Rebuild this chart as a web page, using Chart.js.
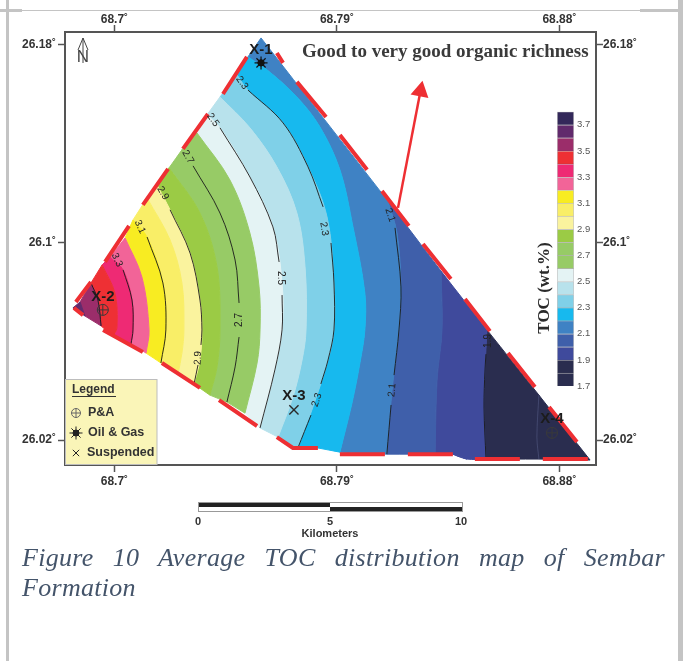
<!DOCTYPE html>
<html>
<head>
<meta charset="utf-8">
<title>Average TOC distribution map</title>
<script src="https://cdn.jsdelivr.net/npm/chart.js@4"></script>
<style>
  html, body { margin: 0; padding: 0; background: #fff; }
  #page { position: relative; width: 683px; height: 661px; overflow: hidden; }
  #page canvas { position: absolute; }
  .rule { position: absolute; background: #c4c4c4; }
  #caption {
    position: absolute; left: 22px; top: 543px; width: 643px;
    font: italic 26px/30px "Liberation Serif", serif; letter-spacing: 0.3px;
    color: #44546a; text-align: justify;
  }
</style>
</head>
<body>
<div id="page">
  <canvas id="map" width="683" height="661" style="left:0;top:0"></canvas>
  <canvas id="scale" width="50" height="294" style="left:557px;top:103px"></canvas>
  <div class="rule" style="left:6px;top:0;width:3px;height:661px"></div>
  <div class="rule" style="left:0;top:9px;width:22px;height:3px"></div>
  <div class="rule" style="left:22px;top:10px;width:618px;height:1px"></div>
  <div class="rule" style="left:640px;top:9px;width:38px;height:3px"></div>
  <div class="rule" style="left:678px;top:0;width:5px;height:661px"></div>
  <div id="caption">Figure 10 Average TOC distribution map of Sembar Formation</div>
</div>
<script>
// axis ticks
var lonTicks = [68.7, 68.79, 68.88];
var latTicks = [26.02, 26.1, 26.18];
var tocTicks = [1.7, 1.9, 2.1, 2.3, 2.5, 2.7, 2.9, 3.1, 3.3, 3.5, 3.7];

// colour classes, 1.7-1.8 up to 3.7-3.8
var tocColors = ['#2a2d4f', '#2a2d4f', '#3f4a9c', '#3f5faa', '#3f82c4', '#17b9ee', '#7fd0e8',
   '#b8e2ec', '#e4f3f4', '#97cb66', '#97cb66', '#9bcb45', '#faf39e', '#f9ee67', '#f8ec22',
   '#f26498', '#ee2a74', '#ee3034', '#9b2d6a', '#612a6c', '#33285a'];
var tocLow = [1.7, 1.8, 1.9, 2.0, 2.1, 2.2, 2.3, 2.4, 2.5, 2.6, 2.7, 2.8, 2.9, 3.0, 3.1, 3.2, 3.3, 3.4, 3.5, 3.6, 3.7];
var tocHigh = [1.8, 1.9, 2.0, 2.1, 2.2, 2.3, 2.4, 2.5, 2.6, 2.7, 2.8, 2.9, 3.0, 3.1, 3.2, 3.3, 3.4, 3.5, 3.6, 3.7, 3.8];

// contours, [lon, lat], from the north edge of the block to the south edge
var c18 = [[68.8717, 26.0382], [68.8709, 26.0212], [68.8717, 26.0123]];
var c19 = [[68.8507, 26.0646], [68.8499, 26.0484], [68.8495, 26.0334], [68.8503, 26.0123]];
var c20 = [[68.8321, 26.0884], [68.8325, 26.0646], [68.8305, 26.0443], [68.8297, 26.0143]];
var c21 = [[68.8106, 26.1168], [68.8143, 26.1038], [68.8159, 26.082], [68.8151, 26.0646], [68.8123, 26.0402], [68.8102, 26.0143]];
var c22 = [[68.754, 26.1751], [68.7617, 26.1699], [68.7738, 26.1589], [68.7831, 26.1468], [68.7912, 26.1294], [68.7965, 26.1063], [68.8013, 26.0795], [68.8013, 26.0646], [68.7993, 26.0512], [68.7961, 26.035], [68.7912, 26.0151]];
var c23 = [[68.7496, 26.1678], [68.754, 26.1617], [68.7682, 26.1484], [68.7783, 26.1306], [68.786, 26.1103], [68.7888, 26.0836], [68.7888, 26.0646], [68.7864, 26.0524], [68.7803, 26.0334], [68.7742, 26.0168]];
var c24 = [[68.7427, 26.1589], [68.7548, 26.1464], [68.7657, 26.1306], [68.7738, 26.1119], [68.7771, 26.0901], [68.7775, 26.0646], [68.7759, 26.0524], [68.7722, 26.0374], [68.7662, 26.0212]];
var c25 = [[68.7374, 26.1516], [68.7427, 26.1464], [68.7548, 26.1265], [68.7641, 26.1063], [68.7678, 26.0836], [68.7678, 26.0646], [68.7649, 26.0484], [68.7589, 26.0249]];
var c26 = [[68.7334, 26.1443], [68.7467, 26.1253], [68.7548, 26.1038], [68.7585, 26.082], [68.7589, 26.0646], [68.7577, 26.0512], [68.7528, 26.0309]];
var c27 = [[68.7273, 26.1375], [68.7318, 26.131], [68.7427, 26.1119], [68.7488, 26.0929], [68.7504, 26.0755], [68.7504, 26.0646], [68.7488, 26.0496], [68.7455, 26.0354]];
var c28 = [[68.7221, 26.1302], [68.7346, 26.1119], [68.7415, 26.0901], [68.7427, 26.0646], [68.7415, 26.0496], [68.7386, 26.0382]];
var c29 = [[68.7172, 26.1233], [68.7225, 26.1132], [68.7306, 26.0957], [68.7346, 26.0767], [68.7354, 26.0646], [68.7346, 26.0524], [68.7322, 26.0427]];
var c30 = [[68.7132, 26.118], [68.7225, 26.101], [68.7273, 26.0836], [68.7281, 26.0646], [68.7273, 26.0552], [68.7257, 26.0467]];
var c31 = [[68.7075, 26.1091], [68.7132, 26.1022], [68.7196, 26.0836], [68.7208, 26.0646], [68.7188, 26.0512]];
var c32 = [[68.7043, 26.1018], [68.7111, 26.086], [68.714, 26.0646], [68.7128, 26.0552]];
var c33 = [[68.6982, 26.0941], [68.7035, 26.0889], [68.7071, 26.0767], [68.7075, 26.0646], [68.7067, 26.0589]];
var c34 = [[68.695, 26.0909], [68.7002, 26.0795], [68.701, 26.0654], [68.6994, 26.0621]];
var c35 = [[68.6905, 26.0836], [68.6933, 26.0767], [68.6946, 26.0662]];
var c36 = [[68.6861, 26.0759], [68.6881, 26.0702]];
var contours = [c18, c19, c20, c21, c22, c23, c24, c25, c26, c27, c28, c29, c30, c31, c32, c33, c34, c35, c36];

// corners of the block that fall inside a class
var cornerEast = [[68.8924, 26.0119]];
var cornerWest = [[68.6832, 26.0735]];
var bandTop = { 4: [[68.7593, 26.1828]] };
var bandBottom = {
   2: [[68.8369, 26.0143], [68.8426, 26.0123]],
   5: [[68.7823, 26.0168]],
   6: [[68.7722, 26.0168]],
};

// drawn contour lines, broken where the labels sit
var lineContours = [
   [[68.8717, 26.0382], [68.8709, 26.0212], [68.8717, 26.0123]],
   [[68.8503, 26.0548], [68.8499, 26.0484], [68.8495, 26.0334], [68.8503, 26.0123]],
   [[68.8135, 26.1059], [68.8159, 26.082], [68.8151, 26.0646], [68.8131, 26.0463], [null, null], [68.8119, 26.0342], [68.8102, 26.0143]],
   [[68.754, 26.1617], [68.7682, 26.1484], [68.7783, 26.1306], [68.7844, 26.1144], [null, null], [68.7876, 26.0998], [68.7888, 26.0836], [68.7888, 26.0646], [68.7864, 26.0524], [68.7835, 26.0427], [null, null], [68.7795, 26.0301], [68.7742, 26.0168]],
   [[68.7427, 26.1464], [68.7548, 26.1265], [68.7641, 26.1063], [68.7666, 26.0921], [null, null], [68.7678, 26.0787], [68.7678, 26.0646], [68.7649, 26.0484], [68.7589, 26.0249]],
   [[68.7318, 26.131], [68.7427, 26.1119], [68.7488, 26.0929], [68.7504, 26.0755], [null, null], [68.7504, 26.0617], [68.7488, 26.0496], [68.7455, 26.0354]],
   [[68.7225, 26.1132], [68.7306, 26.0957], [68.7346, 26.0767], [68.7354, 26.0646], [68.735, 26.0585], [null, null], [68.7338, 26.0504], [68.7322, 26.0427]],
   [[68.7132, 26.1022], [68.7196, 26.0836], [68.7208, 26.0646], [68.7188, 26.0512]],
   [[68.7035, 26.0889], [68.7071, 26.0767], [68.7075, 26.0646], [68.7067, 26.0589]],
   [[68.6905, 26.0836], [68.6933, 26.0767], [68.6946, 26.0662]],
];

// contour labels
var labelText = ['2.3', '2.5', '2.7', '2.9', '3.1', '3.3', '2.3', '2.5', '2.7', '2.9', '2.3', '2.1', '2.1', '1.9'];
var labelLon = [68.7516, 68.7399, 68.7297, 68.7196, 68.7103, 68.701, 68.7848, 68.7674, 68.7504, 68.7338, 68.7819, 68.8115, 68.8123, 68.8511];
var labelLat = [26.1646, 26.1496, 26.1346, 26.12, 26.1063, 26.0929, 26.1055, 26.0856, 26.0686, 26.0532, 26.0362, 26.1111, 26.0402, 26.0601];
var labelAngle = [55, 55, 60, 60, 65, 65, 80, 90, -90, -88, -72, 72, -85, -90];

// red dashes along the block outline
var outlineRed = [
   [68.6836, 26.0735], [68.6873, 26.0706], [null, null],
   [68.6844, 26.0759], [68.6905, 26.084], [null, null],
   [68.6962, 26.0921], [68.7059, 26.1067], [null, null],
   [68.7115, 26.1152], [68.7217, 26.1298], [null, null],
   [68.7277, 26.1379], [68.7378, 26.152], [null, null],
   [68.7439, 26.1601], [68.7536, 26.1751], [null, null],
   [68.7657, 26.1767], [68.7682, 26.1727], [null, null],
   [68.7738, 26.165], [68.7856, 26.1508], [null, null],
   [68.7912, 26.1435], [68.8022, 26.1294], [null, null],
   [68.8082, 26.1208], [68.8191, 26.1067], [null, null],
   [68.8248, 26.0994], [68.8361, 26.0852], [null, null],
   [68.8418, 26.0771], [68.8519, 26.0641], [null, null],
   [68.8592, 26.0552], [68.8701, 26.0415], [null, null],
   [68.8758, 26.0334], [68.8871, 26.0192], [null, null],
   [68.8733, 26.0123], [68.8915, 26.0123], [null, null],
   [68.8458, 26.0123], [68.864, 26.0123], [null, null],
   [68.8187, 26.0143], [68.8369, 26.0143], [null, null],
   [68.7912, 26.0143], [68.8094, 26.0143], [null, null],
   [68.7657, 26.0212], [68.7722, 26.0168], [68.7823, 26.0168], [null, null],
   [68.7423, 26.0362], [68.7577, 26.0257], [null, null],
   [68.7192, 26.0512], [68.7346, 26.0411], [null, null],
   [68.6954, 26.0646], [68.7115, 26.0556],
];

// richness arrow
var arrowLon = [68.8147, 68.8238];
var arrowLat = [26.114, 26.1613];

// wells
var wellNames = ['X-1', 'X-2', 'X-3', 'X-4'];
var wellLon = [68.7593, 68.6953, 68.7726, 68.877];
var wellLat = [26.1727, 26.0727, 26.0322, 26.0229];
var nameLon = [68.7593, 68.6953, 68.7726, 68.877];
var nameLat = [26.178, 26.078, 26.0378, 26.0285];

var serif = '"Liberation Serif", serif';
var sans = '"Liberation Sans", Arial, sans-serif';
var red = '#ee2f33';
var frame = '#555555';
var smooth = 0.35;

function toPoints(list) {
   return list.map(function (p) { return { x: p[0], y: p[1] }; });
}

// repeating an end point keeps the spline from rounding the corner of a band
function sharpEnds(curve) {
   return [curve[0]].concat(curve, [curve[curve.length - 1]]);
}

function bandPoints(i) {
   if (i === 0) return sharpEnds(contours[0]).concat(cornerEast, cornerEast);
   if (i === contours.length) return cornerWest.concat(cornerWest, sharpEnds(contours[i - 1].slice().reverse()));
   var left = sharpEnds(contours[i]);
   var right = sharpEnds(contours[i - 1].slice().reverse());
   var bottom = bandBottom[i] || [];
   var top = bandTop[i] || [];
   bottom = bottom.concat(bottom);
   top = top.concat(top);
   return left.concat(bottom, right, top);
}

var datasets = [];

function addPoints(index, style, radius, color, width, fillColor) {
   datasets.push({
      data: index.map(function (i) { return { x: wellLon[i], y: wellLat[i] }; }),
      showLine: false,
      pointStyle: style,
      pointRadius: radius,
      pointBorderColor: color,
      pointBorderWidth: width,
      pointBackgroundColor: fillColor || 'transparent',
   });
}

// P&A
addPoints([1, 3], 'circle', 5.5, '#3a3a3a', 1);
addPoints([1, 3], 'cross', 5.5, '#3a3a3a', 1);
// oil & gas
addPoints([0], 'circle', 3.2, '#111111', 1, '#111111');
addPoints([0], 'star', 6.5, '#111111', 1.2);
// suspended
addPoints([2], 'crossRot', 6.5, '#2a2a2a', 1.4);

datasets.push({
   data: arrowLon.map(function (x, i) { return { x: x, y: arrowLat[i] }; }),
   showLine: true,
   borderColor: red,
   borderWidth: 2.5,
   pointStyle: 'triangle',
   pointRadius: [0, 8],
   pointRotation: 11,
   pointBackgroundColor: red,
   pointBorderColor: red,
});

datasets.push({
   data: toPoints(outlineRed),
   showLine: true,
   borderColor: red,
   borderWidth: 4,
   pointRadius: 0,
});

lineContours.forEach(function (line, i) {
   datasets.push({
      data: toPoints(line),
      showLine: true,
      borderColor: i === 0 ? '#444a70' : '#1a1a1a',
      borderWidth: 0.9,
      pointRadius: 0,
      tension: smooth,
   });
});

for (var b = contours.length; b >= 0; b--) {
   var poly = bandPoints(b);
   datasets.push({
      data: toPoints(poly.concat([poly[0], poly[0]])),
      showLine: true,
      fill: 'shape',
      backgroundColor: tocColors[b],
      borderColor: tocColors[b],
      borderWidth: 1,
      pointRadius: 0,
      tension: smooth,
   });
}

function text(ctx, str, x, y, font, color, align, angle) {
   ctx.save();
   ctx.translate(x, y);
   if (angle) ctx.rotate(angle * Math.PI / 180);
   ctx.font = font;
   ctx.fillStyle = color;
   ctx.textAlign = align || 'center';
   ctx.textBaseline = 'middle';
   ctx.fillText(str, 0, 0);
   ctx.restore();
}

var mapExtras = {
   id: 'mapExtras',
   afterDraw: function (chart) {
      var ctx = chart.ctx;
      var xs = chart.scales.x;
      var ys = chart.scales.y;

      labelText.forEach(function (t, i) {
         text(ctx, t, xs.getPixelForValue(labelLon[i]), ys.getPixelForValue(labelLat[i]),
            '10px ' + sans, '#222222', 'center', labelAngle[i]);
      });
      wellNames.forEach(function (t, i) {
         text(ctx, t, xs.getPixelForValue(nameLon[i]), ys.getPixelForValue(nameLat[i]),
            'bold 15px ' + sans, '#1c1c1c');
      });

      text(ctx, 'Good to very good organic richness', 302, 52, 'bold 19px ' + serif, '#3a3a3a', 'left');
      text(ctx, 'TOC (wt.%)', 545, 288, 'bold 17px ' + serif, '#2a2a2a', 'center', -90);

      // north arrow
      ctx.strokeStyle = '#444444';
      ctx.lineWidth = 1;
      ctx.beginPath();
      ctx.moveTo(83, 38); ctx.lineTo(83, 63);
      ctx.moveTo(78, 50); ctx.lineTo(83, 38); ctx.lineTo(88, 50);
      ctx.stroke();
      text(ctx, 'N', 83, 57, '17px ' + sans, '#444444');

      // legend box
      ctx.fillStyle = '#faf5b8';
      ctx.fillRect(65, 379, 92, 86);
      ctx.strokeStyle = '#bdbdbd';
      ctx.strokeRect(65.5, 379.5, 91.5, 85);
      text(ctx, 'Legend', 72, 390, 'bold 12px ' + sans, '#333333', 'left');
      ctx.strokeStyle = '#333333';
      ctx.beginPath(); ctx.moveTo(72, 396.5); ctx.lineTo(116, 396.5); ctx.stroke();
      text(ctx, 'P&A', 88, 413, 'bold 12.5px ' + sans, '#333333', 'left');
      text(ctx, 'Oil & Gas', 88, 433, 'bold 12.5px ' + sans, '#333333', 'left');
      text(ctx, 'Suspended', 87, 453, 'bold 12.5px ' + sans, '#333333', 'left');

      var draw = Chart.helpers.drawPoint;
      ctx.strokeStyle = '#666666';
      ctx.fillStyle = 'transparent';
      draw(ctx, { pointStyle: 'circle', radius: 4.5, borderWidth: 1 }, 76, 413);
      draw(ctx, { pointStyle: 'cross', radius: 4.5, borderWidth: 1 }, 76, 413);
      ctx.strokeStyle = '#222222';
      ctx.fillStyle = '#222222';
      draw(ctx, { pointStyle: 'circle', radius: 3, borderWidth: 1 }, 76, 433);
      draw(ctx, { pointStyle: 'star', radius: 6.5, borderWidth: 1 }, 76, 433);
      draw(ctx, { pointStyle: 'crossRot', radius: 4.5, borderWidth: 1 }, 76, 453);

      // scale bar
      ctx.fillStyle = '#222222';
      ctx.fillRect(198, 502, 132, 5);
      ctx.fillRect(330, 507, 132, 5);
      ctx.strokeStyle = '#999999';
      ctx.strokeRect(198.5, 502.5, 264, 9);
      text(ctx, '0', 198, 522, 'bold 11px ' + sans, '#333333');
      text(ctx, '5', 330, 522, 'bold 11px ' + sans, '#333333');
      text(ctx, '10', 461, 522, 'bold 11px ' + sans, '#333333');
      text(ctx, 'Kilometers', 330, 534, 'bold 11px ' + sans, '#333333');
   },
};

function axis(position, values, size, labelGap) {
   var horizontal = position === 'top' || position === 'bottom';
   return {
      type: 'linear',
      position: position,
      min: horizontal ? 68.68 : 26.0099,
      max: horizontal ? 68.8948 : 26.1852,
      afterBuildTicks: function (scale) {
         scale.ticks = values.map(function (v) { return { value: v }; });
      },
      afterFit: function (scale) {
         if (horizontal) scale.height = size;
         else scale.width = size;
      },
      grid: { drawOnChartArea: false, drawTicks: true, tickLength: 7, tickColor: frame, tickWidth: 1.5 },
      border: { display: true, color: frame, width: 2 },
      ticks: {
         autoSkip: false,
         maxRotation: 0,
         padding: labelGap,
         color: '#333333',
         font: { family: sans, size: 12, weight: 'bold' },
         callback: function (v) { return v + '˚'; },
      },
   };
}

new Chart('map', {
   type: 'scatter',
   data: { datasets: datasets },
   plugins: [mapExtras],
   options: {
      responsive: false,
      animation: false,
      layout: { autoPadding: false, padding: 0 },
      plugins: { legend: { display: false }, tooltip: { enabled: false } },
      scales: {
         x: axis('bottom', lonTicks, 196, 2),
         x2: axis('top', lonTicks, 32, -2),
         y: axis('left', latTicks, 65, 2),
         y2: axis('right', latTicks, 87, 0),
      },
   },
});

// colour scale
new Chart('scale', {
   type: 'bar',
   data: {
      labels: ['TOC'],
      datasets: tocLow.map(function (low, i) {
         return {
            data: [[low, tocHigh[i]]],
            backgroundColor: tocColors[i],
            borderColor: 'rgba(90,90,90,0.35)',
            borderWidth: 1,
            categoryPercentage: 1,
            barPercentage: 1,
         };
      }),
   },
   options: {
      responsive: false,
      animation: false,
      layout: { autoPadding: false, padding: { top: 0, bottom: 11 } },
      plugins: { legend: { display: false }, tooltip: { enabled: false } },
      scales: {
         x: { stacked: true, display: false },
         y: {
            position: 'right',
            min: 1.7,
            max: 3.8,
            afterBuildTicks: function (scale) {
               scale.ticks = tocTicks.map(function (v) { return { value: v }; });
            },
            afterFit: function (scale) { scale.width = 33; },
            grid: { display: false, drawTicks: false },
            border: { display: false },
            ticks: {
               autoSkip: false,
               padding: 3,
               color: '#555555',
               font: { family: sans, size: 9.5 },
               callback: function (v) { return v.toFixed(1); },
            },
         },
      },
   },
});
</script>
</body>
</html>
